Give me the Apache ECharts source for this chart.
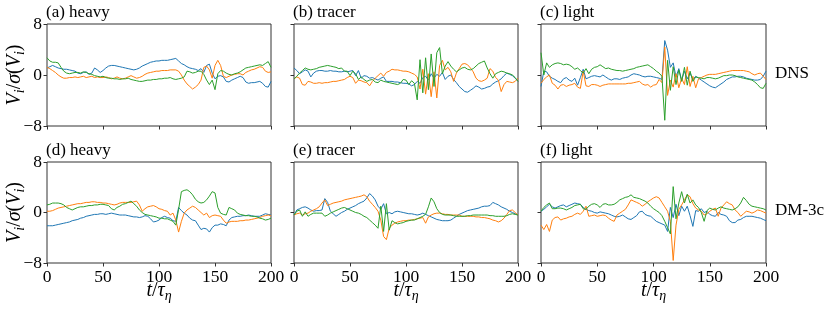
<!DOCTYPE html>
<html><head><meta charset="utf-8">
<script src="https://cdn.jsdelivr.net/npm/echarts/dist/echarts.min.js"></script>
<style>html,body{margin:0;padding:0;background:#fff}#c{width:830px;height:310px}</style>
</head><body><div id="c"></div>
<script>
const T = [0,2.5,5,7.5,10,12.5,15,17.5,20,22.5,25,27.5,30,32.5,35,37.5,40,42.5,45,47.5,50,52.5,55,57.5,60,62.5,65,67.5,70,72.5,75,77.5,80,82.5,85,87.5,90,92.5,95,97.5,100,102.5,105,107.5,110,112.5,115,117.5,120,122.5,125,127.5,130,132.5,135,137.5,140,142.5,145,147.5,150,152.5,155,157.5,160,162.5,165,167.5,170,172.5,175,177.5,180,182.5,185,187.5,190,192.5,195,197.5,200];

const aBlue = [1.1,1.3,1.5,1.3,1.1,1.0,0.9,0.9,0.8,0.7,0.6,0.3,0.2,0.4,0.5,0.1,0.3,1.1,0.8,0.4,0.7,1.1,1.4,1.5,1.5,1.4,1.3,1.2,1.1,1.0,0.9,0.8,0.9,1.1,1.4,1.6,1.8,2.0,2.1,2.2,2.2,2.3,2.3,2.3,2.4,2.5,2.6,2.2,1.8,1.6,1.3,1.1,1.0,0.9,0.7,1.0,0.4,1.5,1.7,0.3,-0.6,-0.2,-0.1,-0.3,-1.0,-1.1,-0.8,-0.6,-0.4,-0.2,-0.4,-1.1,-1.3,-1.2,-1.2,-1.1,-1.0,-1.3,-1.8,-1.9,-1.0];
const aOrange = [1.2,1.0,0.7,0.4,0.0,-0.3,-0.5,-0.5,-0.4,-0.4,-0.3,-0.4,-0.3,-0.2,-0.4,-0.3,-0.2,-0.4,-0.3,-0.4,-0.4,-0.3,-0.4,-0.6,-0.5,-0.3,-0.5,-0.6,-0.5,-0.3,-0.1,-0.3,-0.5,-0.4,-0.2,0.1,0.3,0.4,0.5,0.6,0.6,0.7,0.7,0.7,0.8,0.8,0.8,0.6,0.0,-0.8,-1.4,-1.8,-2.2,-1.9,-1.5,-0.8,1.2,1.4,0.8,-0.5,1.5,2.3,1.5,-0.2,-0.4,-0.2,0.0,0.1,0.2,0.2,0.0,0.4,0.6,0.8,0.9,1.1,1.3,1.2,0.6,0.4,0.5];
const aGreen = [2.7,2.2,2.0,2.0,1.9,1.2,0.6,0.3,0.2,0.3,0.4,0.4,0.3,0.5,0.4,0.2,0.1,-0.1,-0.2,-0.3,-0.2,-0.4,-0.5,-0.5,-0.6,-0.6,-0.7,-0.6,-0.6,-0.5,-0.7,-0.8,-0.9,-1.0,-1.0,-0.9,-0.8,-0.8,-0.7,-0.7,-0.6,-0.6,-0.5,-0.5,-0.4,-0.6,-0.7,-0.6,-0.5,-0.3,0.6,0.5,0.3,0.4,0.6,0.6,0.1,-0.8,-1.5,-0.8,-2.3,0.2,0.7,0.6,0.3,0.1,0.0,0.2,0.3,0.5,0.8,1.1,1.2,1.3,1.4,1.5,1.6,1.5,1.8,2.1,1.2];

const bBlue = [1.1,0.7,0.2,0.5,0.8,0.6,-0.3,0.3,0.6,0.7,0.7,0.6,0.6,0.7,0.6,0.6,0.5,0.5,0.6,0.5,0.6,0.7,-0.1,0.7,-0.5,-0.1,-0.2,-0.5,-0.4,-0.6,-0.8,-0.5,-0.3,-1.0,-1.0,-1.0,-1.1,-1.1,-1.2,-1.3,-1.3,-1.4,-1.7,-1.5,-1.0,-1.3,-0.4,-0.2,-0.8,0.2,-0.5,0.1,-0.2,0.4,-0.7,-0.2,0.0,-0.7,-1.2,-1.8,-2.2,-2.6,-2.7,-2.4,-2.1,-1.7,-1.9,-2.2,-2.1,-1.9,-1.8,-1.4,-1.1,-0.9,-0.6,-0.1,0.3,0.1,-0.1,-0.5,-1.0];
const bOrange = [-0.6,-0.3,-0.5,-1.5,-1.6,-1.0,-1.1,-1.3,-1.3,-1.2,-1.3,-1.2,-1.2,-1.1,-1.0,-1.0,-0.9,-0.8,-0.7,-0.4,-0.2,-0.4,-1.3,-0.8,-0.9,-1.1,-1.2,-1.7,-1.0,-0.5,-0.1,0.3,-0.2,0.4,0.6,0.9,0.8,0.8,0.7,0.6,0.6,0.5,0.3,0.1,-0.3,-2.2,0.9,-3.0,0.2,-3.4,0.5,-3.6,1.5,2.3,0.8,1.2,0.5,-1.0,0.3,1.0,1.7,1.8,1.6,1.1,0.5,-0.5,-0.9,-1.0,-0.8,-0.5,1.0,0.6,-0.4,-0.8,-2.6,-1.5,-1.0,-1.1,-1.2,-1.0,-0.5];
const bGreen = [-0.6,-0.2,0.3,0.7,1.1,0.9,0.8,0.9,1.0,1.2,1.3,1.4,1.5,1.4,1.3,1.2,1.0,1.1,0.6,0.6,-0.1,0.6,0.2,-0.7,-0.3,-0.7,-1.0,-0.8,-0.7,-1.1,-1.2,-0.8,-1.0,-1.1,-1.2,-1.3,-1.4,-1.5,-1.3,-0.7,-0.8,-1.5,-0.9,-1.3,-3.9,2.4,-2.8,2.7,-2.3,3.3,-1.8,3.5,4.3,0.2,1.4,2.1,1.4,0.9,0.5,0.8,1.1,1.2,0.9,0.8,1.0,1.4,1.8,2.0,2.2,1.1,0.2,-0.5,0.2,0.4,0.6,0.5,0.3,0.2,0.0,-0.4,-1.0];

const cBlue = [-1.8,0.6,0.5,-0.2,-0.5,-0.7,-1.0,-1.2,-0.6,-0.4,-0.8,-1.0,-0.5,-1.6,-0.4,0.9,-0.6,-0.4,-0.2,-0.1,-0.2,-0.3,0.0,-0.3,-0.6,-0.8,-0.6,-0.6,-0.7,-0.5,-0.4,-0.3,0.0,0.2,0.1,0.0,-0.2,-0.3,-0.2,-0.2,-0.3,-0.4,-0.5,-0.7,5.4,3.9,1.2,1.9,-0.3,1.0,-0.8,0.6,-0.6,0.3,-0.7,-0.2,-0.5,-0.8,-1.1,-1.4,-1.7,-1.9,-2.0,-1.7,-1.4,-1.1,-0.7,-0.5,-0.3,-0.3,-0.2,-0.2,-0.3,-0.5,-0.6,-0.7,-0.8,-0.8,-0.7,-0.2,0.6];
const cOrange = [-1.3,-0.7,-0.3,0.0,-1.3,-1.6,-2.2,-1.6,-1.5,-1.8,-1.6,-1.5,-1.3,-1.9,-2.1,0.6,-1.7,-1.8,-1.5,-1.5,-1.6,-1.8,-1.6,-1.5,-1.4,-1.4,-1.4,-1.4,-1.4,-1.4,-1.4,-1.3,-1.3,-1.2,-1.1,-1.0,-1.4,-1.6,-1.5,-1.9,-1.6,-1.5,-0.7,-1.2,4.4,-3.2,-0.8,-1.9,0.2,-2.0,-0.5,-1.5,1.3,-1.8,-0.2,-2.0,-0.6,-0.4,-0.2,0.0,0.1,0.1,0.1,0.2,0.3,0.4,0.5,0.6,0.7,0.7,0.7,0.7,0.7,0.6,0.5,0.2,0.0,0.2,0.3,-0.2,-0.7];
const cGreen = [3.5,0.0,1.9,1.2,1.6,1.8,1.9,1.8,1.6,1.7,1.6,1.3,0.9,1.1,0.7,0.3,1.0,0.2,0.9,1.2,1.3,1.6,1.3,1.0,1.1,0.9,0.8,0.7,0.7,0.6,0.7,0.8,0.9,1.0,1.2,1.3,1.4,1.5,1.6,1.3,1.0,0.6,0.3,-0.2,-7.1,2.3,-2.4,1.3,-1.5,0.8,-1.0,1.2,-1.6,0.6,-1.0,-0.3,-0.4,-0.5,-0.6,-0.4,-0.4,-0.5,-0.6,-0.5,-0.3,-0.1,-0.1,0.0,0.0,-0.1,-0.3,-0.4,-0.5,-0.6,-0.7,-0.8,-1.1,-1.5,-2.0,-2.1,-1.3];

const dBlue = [-2.1,-2.1,-2.1,-2.0,-1.9,-1.8,-1.7,-1.6,-1.5,-1.3,-1.2,-1.1,-0.9,-0.8,-0.6,-0.5,-0.4,-0.3,-0.3,-0.2,-0.2,-0.3,-0.2,-0.1,-0.2,-0.3,-0.4,-0.4,-0.4,-0.5,-0.6,-0.7,-0.7,-0.8,-0.7,-0.5,-0.6,-1.0,-1.5,-1.4,-1.2,-0.8,-0.6,-0.8,-0.9,-1.3,-1.4,0.8,0.3,-0.1,-0.4,-0.9,-1.2,-1.3,-2.0,-2.7,-2.5,-2.6,-3.1,-2.4,-2.0,-2.0,-1.8,-1.9,-2.1,-1.2,-0.8,-0.7,-0.6,-0.6,-0.5,-0.5,-0.4,-0.5,-0.6,-0.6,-0.6,-0.4,-0.2,-0.3,-0.4];
const dOrange = [0.2,0.2,0.3,0.5,0.7,0.8,0.9,1.0,1.1,1.2,1.3,1.4,1.4,1.5,1.6,1.6,1.7,1.7,1.6,1.6,1.5,1.5,1.4,1.3,1.2,1.3,1.5,1.6,1.6,1.6,1.6,1.7,1.8,1.2,0.2,0.6,0.9,1.0,1.1,0.9,0.6,0.5,0.3,0.2,-0.4,-0.1,-1.2,-3.1,-1.4,-0.1,0.4,0.7,1.0,0.8,0.4,0.0,-0.4,-0.1,-0.8,-0.5,-0.4,-0.5,-0.6,-1.2,-1.7,-1.5,-1.4,-1.4,-1.4,-1.3,-1.3,-1.2,-1.2,-1.1,-1.0,-0.9,-0.8,-0.6,-0.5,-0.4,-0.5];
const dGreen = [1.2,1.3,1.5,1.5,1.5,1.4,1.2,0.8,0.6,0.4,0.6,0.8,0.9,0.9,1.0,1.1,1.1,1.2,1.2,1.3,1.3,1.2,1.1,0.6,0.4,0.8,1.0,1.3,1.4,1.6,1.8,1.4,1.0,0.4,0.0,-0.3,-0.4,-0.5,-0.6,-0.7,-0.9,-0.9,-1.0,-1.0,-1.2,-1.4,-2.0,0.5,3.3,3.5,3.6,3.3,2.8,2.1,1.7,1.5,1.6,2.0,2.6,3.3,3.1,0.8,-0.1,-0.3,-0.4,0.8,0.6,0.4,-0.1,-0.3,-0.4,-0.5,-0.5,-0.6,-0.6,-0.7,-0.9,-1.0,-1.2,-1.1,-0.9];

const eBlue = [-0.4,0.4,0.6,0.8,0.9,0.7,0.4,0.2,0.3,0.3,0.4,2.2,1.6,0.2,-0.2,-0.6,-0.3,0.0,0.2,0.5,0.7,0.9,1.1,1.4,1.6,1.8,2.3,3.0,2.6,2.0,1.0,0.5,1.4,-0.2,0.0,-0.2,0.1,0.2,0.1,0.0,-0.1,-0.2,-0.2,-0.3,-0.4,-0.3,-0.1,-0.3,-0.5,-0.7,-0.9,-1.1,-1.2,-1.3,-1.3,-1.3,-1.2,-0.9,-0.6,-0.3,-0.1,0.1,0.3,0.4,0.5,0.6,0.7,0.9,1.0,1.0,1.1,1.6,1.4,1.2,0.9,0.7,0.5,0.2,0.0,-0.2,-0.4];
const eOrange = [-0.4,-0.2,-0.1,-0.4,-0.2,-0.1,0.2,0.4,0.6,0.9,1.5,2.0,1.1,1.3,1.5,1.6,1.7,1.8,2.0,2.1,2.2,2.3,2.4,2.5,2.6,2.8,2.5,1.8,1.3,0.8,0.2,-1.2,-3.8,-4.3,-2.5,-2.0,-1.7,-1.5,-1.4,-1.3,-1.3,-1.2,-1.2,-1.1,-1.0,-0.9,-0.8,-1.7,-0.7,-0.4,-0.2,-0.1,-0.1,-0.2,-0.3,-0.3,-0.4,-0.4,-0.4,-0.4,-0.6,-0.6,-0.6,-0.6,-0.6,-0.7,-0.7,-0.8,-0.8,-0.9,-1.0,-1.2,-1.3,-1.5,-1.3,-0.9,-0.3,0.3,0.4,0.0,-0.4];
const eGreen = [-0.4,0.2,0.4,-0.6,0.1,-0.6,-0.3,-0.1,-0.1,-0.1,-0.1,-0.6,-0.4,-0.1,0.1,0.3,0.5,0.7,0.8,0.6,0.4,0.2,0.0,-0.1,-0.3,-0.6,-0.8,-1.2,-1.6,-2.0,-2.5,1.0,-3.0,1.4,-2.8,-1.3,-1.6,-1.8,-1.7,-1.6,-1.4,-1.3,-1.2,-1.2,-1.0,-0.8,-0.6,-0.3,0.9,2.3,1.7,0.6,0.0,-0.3,-0.4,-0.4,-0.4,-0.5,-0.6,-0.6,-0.6,-0.6,-0.5,-0.5,-0.4,-0.4,-0.4,-0.4,-0.4,-0.4,-0.5,-0.5,-0.6,-0.6,-0.6,-0.6,-0.5,-0.3,-0.2,-0.3,-0.4];

const fBlue = [0.2,0.5,0.9,1.3,0.9,0.7,0.9,1.1,1.2,0.9,1.1,1.3,1.5,1.4,1.3,0.8,0.5,0.3,0.2,0.0,-0.1,0.1,0.0,-0.1,-0.2,-0.4,-0.6,-0.7,-0.6,-0.4,-0.7,-1.0,-1.1,-0.8,-0.5,0.1,0.2,-0.3,-0.5,-0.6,-1.0,-1.4,-1.6,-1.8,-2.0,-3.0,0.8,-0.8,1.3,-0.5,1.0,0.2,1.0,-0.5,-2.2,0.3,0.2,0.6,0.0,0.2,-0.3,-0.5,-0.6,0.0,-0.3,-0.4,-0.6,-1.3,-1.6,-1.6,-1.2,-1.1,-0.8,-0.6,-0.6,-0.6,-0.7,-0.8,-0.9,-1.1,-1.3];
const fOrange = [-2.0,-2.7,-1.9,-3.0,-1.2,-0.8,-0.7,-1.2,-1.0,-0.9,-0.7,-0.6,-0.3,-0.1,-0.3,0.2,1.0,-0.6,-0.5,-0.4,-0.6,-0.5,-0.4,-0.5,-0.9,-1.2,-1.4,-0.4,-0.1,0.2,0.5,1.2,2.0,1.8,1.6,1.4,1.0,1.3,1.7,2.0,2.3,2.5,2.3,1.6,0.9,0.2,-1.4,-7.6,-2.0,0.5,1.2,2.0,2.8,2.5,1.4,0.7,0.4,0.2,-0.4,-0.2,0.2,0.5,0.7,-0.6,0.7,1.2,1.7,1.4,1.2,0.4,0.0,-0.6,-0.2,0.2,0.1,-0.1,0.1,0.4,0.3,0.1,-0.1];
const fGreen = [0.2,0.8,1.2,1.5,0.6,0.6,0.7,0.7,0.6,0.4,0.6,0.8,1.1,1.2,1.3,0.6,0.5,1.0,1.3,1.4,1.2,0.8,1.3,1.4,1.2,1.2,1.3,1.6,2.0,2.2,2.4,2.5,2.8,2.4,2.3,2.2,2.0,1.8,1.5,1.0,0.6,0.3,0.0,-0.5,-1.4,-2.4,-3.4,4.1,-1.0,1.5,3.3,1.5,2.9,1.5,2.0,1.2,0.8,0.0,-1.4,0.3,0.7,0.5,0.4,0.7,0.9,0.7,0.6,0.5,0.4,0.6,0.9,1.5,2.4,1.9,1.3,1.0,0.9,0.8,0.7,0.6,0.4];

const panelTitles = ['(a) heavy','(b) tracer','(c) light','(d) heavy','(e) tracer','(f) light'];
const rowLabels = ['DNS','DM-3c'];
const xTicks = [0,50,100,150,200];
const yTicks = [-8,0,8];
const seriesColors = ['#1f77b4','#ff7f0e','#2ca02c'];
const panelData = [
  [aBlue,aOrange,aGreen],[bBlue,bOrange,bGreen],[cBlue,cOrange,cGreen],
  [dBlue,dOrange,dGreen],[eBlue,eOrange,eGreen],[fBlue,fOrange,fGreen]
];

const FONT = '"Liberation Serif","Times New Roman",serif';
const lefts = [47,294,541], widths = [224,224,225];
const tops = [24,162], heights = [102,101];
const frame = '#333';

const chart = echarts.init(document.getElementById('c'), null, {renderer:'canvas'});
const grid = [], xAxis = [], yAxis = [], series = [], title = [];
const richMath = {
  i:{fontFamily:FONT,fontStyle:'italic',fontSize:20,color:'#000',lineHeight:24},
  n:{fontFamily:FONT,fontSize:20,color:'#000',lineHeight:24},
  s:{fontFamily:FONT,fontStyle:'italic',fontSize:14,color:'#000',lineHeight:14,verticalAlign:'bottom'}
};
panelData.forEach((arrs, p) => {
  const r = Math.floor(p/3), c = p%3;
  grid.push({left:lefts[c], top:tops[r], width:widths[c], height:heights[r], show:true,
    borderColor:frame, borderWidth:1, backgroundColor:'transparent', containLabel:false});
  xAxis.push({gridIndex:p, type:'value', min:xTicks[0], max:xTicks[xTicks.length-1], interval:50,
    axisLine:{show:false, onZero:false}, splitLine:{show:false},
    axisTick:{show:true, length:3.5, inside:false, lineStyle:{color:frame, width:1}},
    axisLabel:{show:r===1, fontFamily:FONT, fontSize:17.5, color:'#000', margin:5},
    name: r===1 ? '{i|t}{n|/}{i|τ}{s|η}' : '', nameLocation:'middle', nameGap:16, nameMoveOverlap:false,
    nameTextStyle:{rich:richMath}});
  yAxis.push({gridIndex:p, type:'value', min:yTicks[0], max:yTicks[yTicks.length-1], interval:8,
    axisLine:{show:false, onZero:false}, splitLine:{show:false},
    axisTick:{show:true, length:3.5, inside:false, lineStyle:{color:frame, width:1}},
    axisLabel:{show:c===0, fontFamily:FONT, fontSize:17.5, color:'#000', margin:5,
      formatter:v => String(v).replace('-','\u2212')},
    name: c===0 ? '{i|V}{s|i}{n|/}{i|σ}{n|(}{i|V}{s|i}{n|)}' : '', nameLocation:'middle', nameGap:20, nameRotate:90, nameMoveOverlap:false,
    nameTextStyle:{rich:richMath}});
  title.push({text:panelTitles[p], left:lefts[c]-1, top:tops[r]-20, padding:0,
    textStyle:{fontFamily:FONT, fontSize:17, fontWeight:'normal', color:'#000'}});
  arrs.forEach((arr, s) => {
    series.push({type:'line', xAxisIndex:p, yAxisIndex:p, showSymbol:false, symbol:'none',
      data:T.map((t,k)=>[t, arr[k]]), color:seriesColors[s],
      lineStyle:{width:1, color:seriesColors[s]}, silent:true, animation:false, z:2+s});
  });
});

chart.setOption({
  animation:false,
  backgroundColor:'#fff',
  title, grid, xAxis, yAxis, series,
  graphic: rowLabels.map((lab, r) => ({type:'text', left:775, top:tops[r] + heights[r]/2 - 10,
    style:{text:lab, font:'17px ' + FONT, fill:'#000'}}))
});
</script></body></html>
